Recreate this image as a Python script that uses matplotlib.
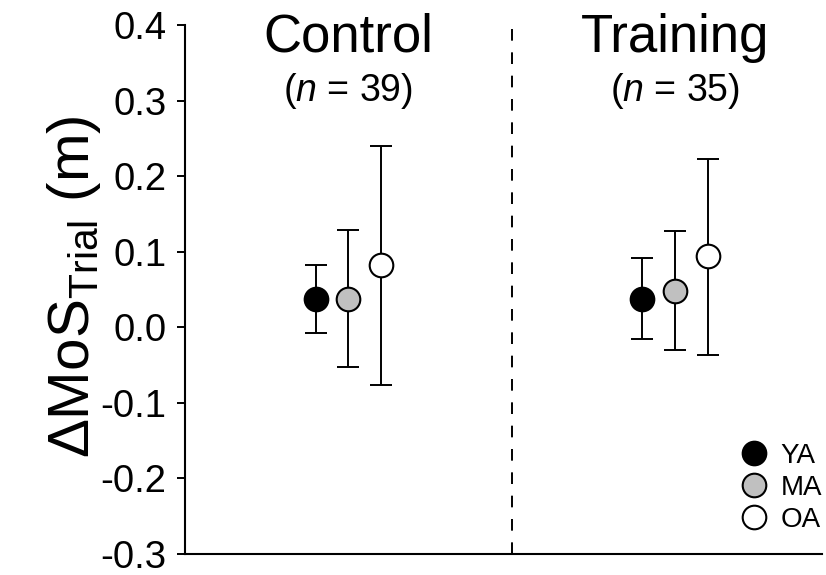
import matplotlib
matplotlib.use("Agg")
import matplotlib.pyplot as plt
from matplotlib.lines import Line2D

plt.rcParams['font.family'] = ['Liberation Sans', 'DejaVu Sans']
plt.rcParams['mathtext.fontset'] = 'custom'
plt.rcParams['mathtext.rm'] = 'Liberation Sans'
plt.rcParams['mathtext.it'] = 'Liberation Sans:italic'

##### Data #####
groups = ['Control', 'Training']
group_n = [39, 35]
ages = ['YA', 'MA', 'OA']
age_colors = ['black', '#c0c0c0', 'white']

# mean, upper and lower end of the error bars per group (YA, MA, OA)
means = [[0.038, 0.038, 0.083],
         [0.038, 0.048, 0.094]]
upper = [[0.083, 0.129, 0.240],
         [0.092, 0.127, 0.223]]
lower = [[-0.007, -0.053, -0.076],
         [-0.015, -0.030, -0.036]]

y_ticks = [0.4, 0.3, 0.2, 0.1, 0.0, -0.1, -0.2, -0.3]

##### Layout #####
group_x = [1.64, 4.905]
offset = 0.327
divider_x = 3.275

fig = plt.figure(figsize=(8.26, 5.75), dpi=100)
ax = fig.add_axes([0.2234, 0.0365, 0.995 - 0.2234, 0.9565 - 0.0365])

for g in range(len(groups)):
  for a in range(len(ages)):
    x = group_x[g] + (a - 1) * offset
    m = means[g][a]
    ax.errorbar(x, m, yerr=[[m - lower[g][a]], [upper[g][a] - m]],
                fmt='none', ecolor='black', elinewidth=1.4, capsize=8, capthick=1.4, zorder=2)
    ax.plot(x, m, 'o', markersize=17, markerfacecolor=age_colors[a],
            markeredgecolor='black', markeredgewidth=1.5, zorder=3)
  ax.text(group_x[g], 0.3647, groups[g], fontsize=38, ha='center', va='baseline')
  ax.text(group_x[g], 0.300, '($n$ = %d)' % group_n[g], fontsize=27, ha='center', va='baseline')

ax.axvline(divider_x, color='black', lw=1.4, dashes=(6, 6), zorder=1)

ax.set_xlim(0, 6.375)
ax.set_ylim(-0.3, 0.4)
ax.set_yticks(y_ticks)
ax.set_yticklabels(['%.1f' % t for t in y_ticks])
ax.set_xticks([])
ax.tick_params(axis='y', labelsize=27.5, length=6, width=1.4, pad=7, direction='out')
ax.spines['top'].set_visible(False)
ax.spines['right'].set_visible(False)
ax.spines['left'].set_linewidth(1.5)
ax.spines['bottom'].set_linewidth(1.5)

fig.text(74 / 826, 1 - 287 / 575, r'$\Delta$MoS$_{\mathrm{Trial}}$ (m)', fontsize=42,
         rotation=90, ha='center', va='center')

handles = [Line2D([], [], linestyle='none', marker='o', markersize=17,
                  markerfacecolor=c, markeredgecolor='black', markeredgewidth=1.5)
           for c in age_colors]
ax.legend(handles, ages, loc='lower right', bbox_to_anchor=(1.0, 0.04), frameon=False,
          fontsize=20, handlelength=0.8, handletextpad=0.55, labelspacing=0.22,
          borderpad=0, borderaxespad=0)

fig.savefig('out.png', dpi=100)
